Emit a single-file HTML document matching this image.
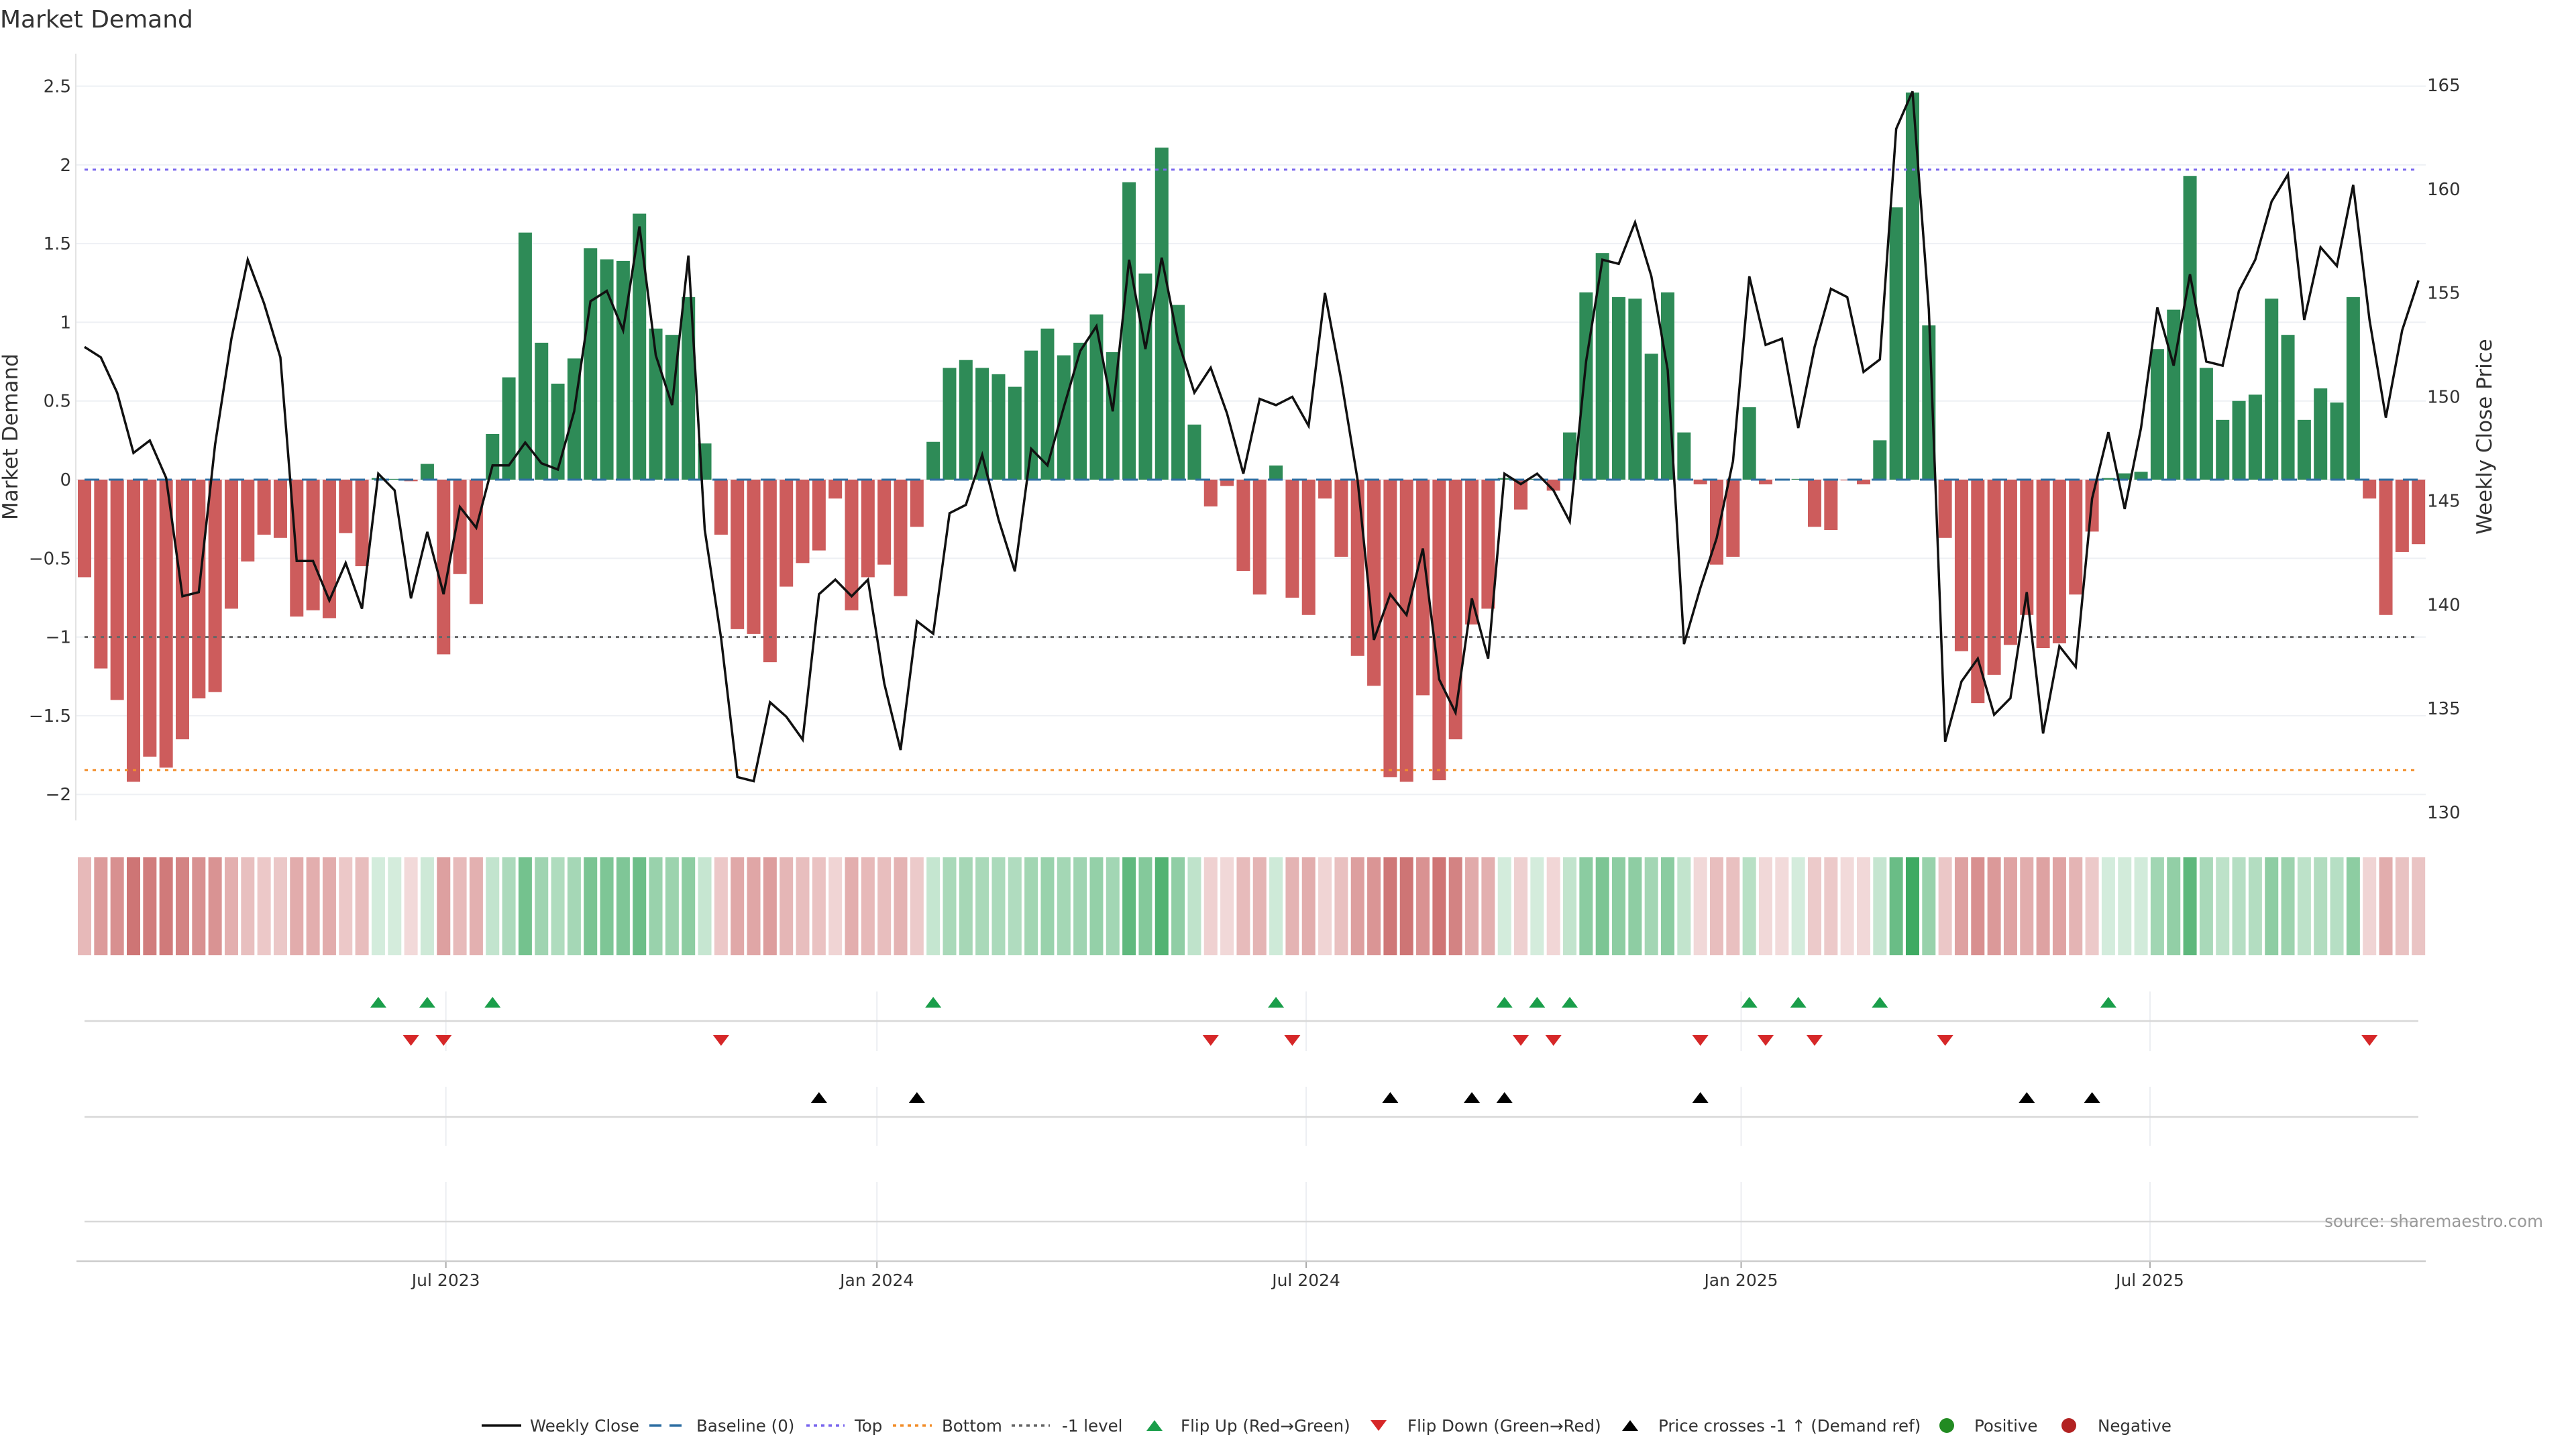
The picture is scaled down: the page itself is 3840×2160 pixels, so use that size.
<!DOCTYPE html>
<html><head><meta charset="utf-8"><style>
html,body{margin:0;padding:0;background:#fff;}
svg{display:block;font-family:"DejaVu Sans","Liberation Sans",sans-serif;}
</style></head><body>
<svg id="chart" width="3840" height="2160" viewBox="0 0 3840 2160" xmlns="http://www.w3.org/2000/svg">
<rect width="3840" height="2160" fill="#fff"/>
<text x="0" y="41" font-size="36" fill="#333">Market Demand</text>
<g id="grid"></g>
<line x1="113" y1="80" x2="113" y2="1223" stroke="#e3e3e3" stroke-width="2"/>
<g id="bars"></g>
<g id="levels"></g>
<g id="price"></g>
<g id="ticks"></g>
<text transform="translate(26,651) rotate(-90)" text-anchor="middle" font-size="31" fill="#333">Market Demand</text>
<text transform="translate(3714,651) rotate(-90)" text-anchor="middle" font-size="31" fill="#333">Weekly Close Price</text>
<g id="heat"></g>
<g id="panels"></g>
<g id="markers"></g>
<text x="3791" y="1829" text-anchor="end" font-size="24.5" fill="#999">source: sharemaestro.com</text>
<g id="legend"></g>
</svg>
<script>
const demand = [-0.62,-1.20,-1.40,-1.92,-1.76,-1.83,-1.65,-1.39,-1.35,-0.82,
-0.52,-0.35,-0.37,-0.87,-0.83,-0.88,-0.34,-0.55,0.01,0.005,
-0.01,0.10,-1.11,-0.60,-0.79,0.29,0.65,1.57,0.87,0.61,
0.77,1.47,1.40,1.39,1.69,0.96,0.92,1.16,0.23,-0.35,
-0.95,-0.98,-1.16,-0.68,-0.53,-0.45,-0.12,-0.83,-0.62,-0.54,
-0.74,-0.30,0.24,0.71,0.76,0.71,0.67,0.59,0.82,0.96,
0.79,0.87,1.05,0.81,1.89,1.31,2.11,1.11,0.35,-0.17,
-0.04,-0.58,-0.73,0.09,-0.75,-0.86,-0.12,-0.49,-1.12,-1.31,
-1.89,-1.92,-1.37,-1.91,-1.65,-0.92,-0.82,0.01,-0.19,0.005,
-0.07,0.30,1.19,1.44,1.16,1.15,0.80,1.19,0.30,-0.03,
-0.54,-0.49,0.46,-0.03,-0.005,0.005,-0.30,-0.32,-0.005,-0.03,
0.25,1.73,2.46,0.98,-0.37,-1.09,-1.42,-1.24,-1.05,-0.86,
-1.07,-1.04,-0.73,-0.33,0.01,0.04,0.05,0.83,1.08,1.93,
0.71,0.38,0.50,0.54,1.15,0.92,0.38,0.58,0.49,1.16,
-0.12,-0.86,-0.46,-0.41];
const prices = [152.4,151.9,150.2,147.3,147.9,146.1,140.4,140.6,147.7,152.8,
156.6,154.5,151.9,142.1,142.1,140.2,142.0,139.8,146.3,145.5,
140.3,143.5,140.5,144.7,143.7,146.7,146.7,147.8,146.8,146.5,
149.3,154.6,155.1,153.2,158.2,152.0,149.6,156.8,143.6,138.4,
131.7,131.5,135.3,134.6,133.5,140.5,141.2,140.4,141.2,136.2,
133.0,139.2,138.6,144.4,144.8,147.2,144.1,141.6,147.5,146.7,
149.5,152.2,153.4,149.3,156.6,152.3,156.7,152.7,150.2,151.4,
149.2,146.3,149.9,149.6,150.0,148.6,155.0,150.8,146.0,138.3,
140.5,139.5,142.7,136.4,134.8,140.3,137.4,146.3,145.8,146.3,
145.5,144.0,151.7,156.6,156.4,158.4,155.8,151.3,138.1,140.8,
143.2,146.9,155.8,152.5,152.8,148.5,152.4,155.2,154.8,151.2,
151.8,162.9,164.7,154.2,133.4,136.3,137.4,134.7,135.5,140.6,
133.8,138.0,137.0,145.1,148.3,144.6,148.5,154.3,151.5,155.9,
151.7,151.5,155.1,156.6,159.4,160.7,153.7,157.2,156.3,160.2,
153.7,149.0,153.2,155.6];
const demandTicks = [2.5,2,1.5,1,0.5,0,-0.5,-1,-1.5,-2];
const priceTicks = [165,160,155,150,145,140,135,130];
const dateTickLabels = ["Jul 2023","Jan 2024","Jul 2024","Jan 2025","Jul 2025"];
const dateTickIndex = [22.14,48.55,74.85,101.5,126.55];
const topLevel = 1.97, bottomLevel = -1.845, minusLevel = -1;

const NS="http://www.w3.org/2000/svg";
function mk(parent,tag,attrs){const e=document.createElementNS(NS,tag);for(const k in attrs)e.setAttribute(k,attrs[k]);parent.appendChild(e);return e;}
const xIdx = i => 126 + i*24.33;
const yD = v => 715 - v*234.6;
const yP = p => 127 + (165-p)*30.97;
const fmt = v => (v<0?"\u2212":"")+String(Math.abs(v));

const grid=document.getElementById('grid');
demandTicks.forEach(t=>{
  const l=mk(grid,'line',{x1:113,x2:3616,y1:yD(t),y2:yD(t),stroke:'#eef0f4','stroke-width':2});
  
  
});
const ticks=document.getElementById('ticks');
demandTicks.forEach(t=>{
  const tx=mk(ticks,'text',{x:106,y:yD(t)+9,'text-anchor':'end','font-size':26,fill:'#333'});
  tx.textContent=fmt(t);
  
  
});
priceTicks.forEach(t=>{
  const tx=mk(ticks,'text',{x:3618,y:yP(t)+9,'font-size':26,fill:'#333'});
  tx.textContent=String(t);
  
  
});

const bars=document.getElementById('bars');
demand.forEach((v,i)=>{
  const y0=yD(0), y1=yD(v);
  const r=mk(bars,'rect',{x:xIdx(i)-10,y:Math.min(y0,y1),width:20,height:Math.max(0.5,Math.abs(y1-y0)),fill:v>=0?'#2e8b57':'#cd5c5c'});
  
  
});

const lv=document.getElementById('levels');
const L1=mk(lv,'line',{x1:126,x2:3605,y1:yD(0),y2:yD(0),stroke:'#2f6fa3','stroke-width':3,'stroke-dasharray':'22 14'});


const L2=mk(lv,'line',{x1:126,x2:3605,y1:yD(topLevel),y2:yD(topLevel),stroke:'#7b68ee','stroke-width':3,'stroke-dasharray':'5 7'});


const L3=mk(lv,'line',{x1:126,x2:3605,y1:yD(bottomLevel),y2:yD(bottomLevel),stroke:'#f28e2b','stroke-width':3,'stroke-dasharray':'5 7'});


const L4=mk(lv,'line',{x1:126,x2:3605,y1:yD(minusLevel),y2:yD(minusLevel),stroke:'#666','stroke-width':3,'stroke-dasharray':'5 7'});



const pr=document.getElementById('price');
const pl=mk(pr,'polyline',{points:prices.map((p,i)=>xIdx(i)+','+yP(p)).join(' '),fill:'none',stroke:'#111','stroke-width':3.5,'stroke-linejoin':'miter'});



const maxAbs=Math.max(...demand.map(Math.abs));
const heat=document.getElementById('heat');
demand.forEach((v,i)=>{
  const a=0.2+0.7*Math.abs(v)/maxAbs;
  const base=v>=0?[40,160,80]:[190,70,70];
  const c=base.map(b=>Math.round(255-a*(255-b)));
  const r=mk(heat,'rect',{x:xIdx(i)-10,y:1278,width:20,height:146,fill:`rgb(${c[0]},${c[1]},${c[2]})`});
  
  
});

const pan=document.getElementById('panels');
const segs=[[1478,1567],[1620,1708],[1762,1880]];
dateTickIndex.forEach((ix,k)=>{
  const x=xIdx(ix);
  segs.forEach(s=>{
    const g=mk(pan,'line',{x1:x,x2:x,y1:s[0],y2:s[1],stroke:'#eceef2','stroke-width':2});
    
    
  });
  const tm=mk(pan,'line',{x1:x,x2:x,y1:1880,y2:1890,stroke:'#aaa','stroke-width':2});
  
  
  const t=mk(pan,'text',{x:x,y:1917,'text-anchor':'middle','font-size':25,fill:'#333'});
  t.textContent=dateTickLabels[k];
  
  
});
[1522,1665,1821].forEach(y=>{
  const l=mk(pan,'line',{x1:126,x2:3605,y1:y,y2:y,stroke:'#d8d8d8','stroke-width':2.5});
  
  
});
const xa=mk(pan,'line',{x1:114,x2:3616,y1:1880,y2:1880,stroke:'#ccc','stroke-width':2.5});



const mkr=document.getElementById('markers');
function tri(x,y,up,fill){
  const h=16,w=12;
  const pts=up?`${x-w},${y+h/2} ${x+w},${y+h/2} ${x},${y-h/2}`:`${x-w},${y-h/2} ${x+w},${y-h/2} ${x},${y+h/2}`;
  return mk(mkr,'polygon',{points:pts,fill:fill});
}
const refPrice=165-(yD(minusLevel)-127)/30.97;
for(let i=1;i<demand.length;i++){
  if(demand[i-1]<0&&demand[i]>=0){const t=tri(xIdx(i),1494,true,'#1a9e4a');}
  if(demand[i-1]>=0&&demand[i]<0){const t=tri(xIdx(i),1551,false,'#d62728');}
  if(prices[i-1]<refPrice&&prices[i]>=refPrice){const t=tri(xIdx(i),1636,true,'#000');}
}

const lg=document.getElementById('legend');
const LY=2125;
function ltext(x,s){const t=mk(lg,'text',{x:x,y:LY+9,'font-size':24.5,fill:'#333'});t.textContent=s;}
let e;
e=mk(lg,'line',{x1:718,x2:777,y1:LY,y2:LY,stroke:'#111','stroke-width':3.5});ltext(790,'Weekly Close');
e=mk(lg,'line',{x1:968,x2:1021,y1:LY,y2:LY,stroke:'#2f6fa3','stroke-width':3.5,'stroke-dasharray':'18 12'});ltext(1038,'Baseline (0)');
e=mk(lg,'line',{x1:1202,x2:1259,y1:LY,y2:LY,stroke:'#7b68ee','stroke-width':3.5,'stroke-dasharray':'5 6'});ltext(1274,'Top');
e=mk(lg,'line',{x1:1331,x2:1389,y1:LY,y2:LY,stroke:'#f28e2b','stroke-width':3.5,'stroke-dasharray':'5 6'});ltext(1404,'Bottom');
e=mk(lg,'line',{x1:1508,x2:1565,y1:LY,y2:LY,stroke:'#666','stroke-width':3.5,'stroke-dasharray':'5 6'});ltext(1583,'-1 level');
e=mk(lg,'polygon',{points:'1709,2133 1733,2133 1721,2117',fill:'#1a9e4a'});ltext(1760,'Flip Up (Red\u2192Green)');
e=mk(lg,'polygon',{points:'2043,2117 2067,2117 2055,2133',fill:'#d62728'});ltext(2098,'Flip Down (Green\u2192Red)');
e=mk(lg,'polygon',{points:'2418,2133 2442,2133 2430,2117',fill:'#000'});ltext(2472,'Price crosses -1 \u2191 (Demand ref)');
e=mk(lg,'circle',{cx:2902,cy:LY,r:11,fill:'#228b22'});ltext(2943,'Positive');
e=mk(lg,'circle',{cx:3084,cy:LY,r:11,fill:'#b22222'});ltext(3127,'Negative');
</script>
</body></html>
